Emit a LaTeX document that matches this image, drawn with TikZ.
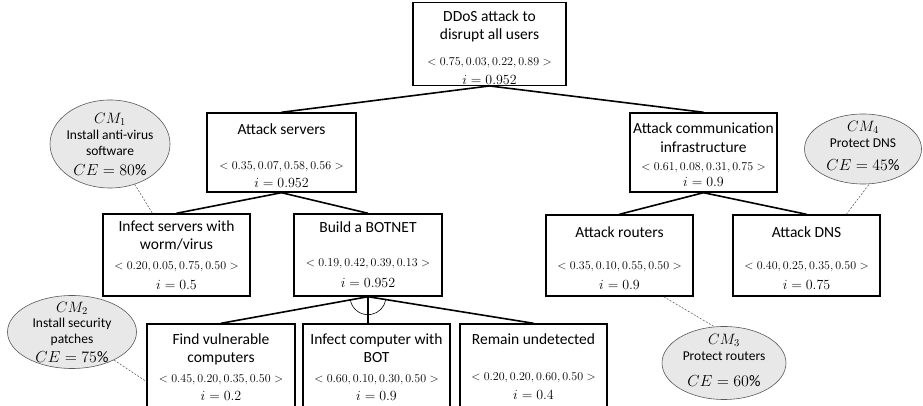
\documentclass[tikz,border=0pt]{standalone}
\usepackage{fix-cm}
\usepackage{fontspec}
\setmainfont{Carlito}
\usetikzlibrary{shapes.geometric}

\newcommand{\tpl}[1]{{\fontsize{12}{14}\selectfont$<#1>$}}
\newcommand{\ival}[1]{{\fontsize{14}{16}\selectfont$i=#1$}}
\newcommand{\cmname}[1]{{\fontsize{15}{16}\selectfont$CM_{#1}$}}
\newcommand{\cmval}[1]{{\fontsize{16}{18}\selectfont$CE=#1\mathrm{\%}$}}
\newcommand{\lift}[1]{\rule{0pt}{#1}}

\tikzset{
  goal/.style={rectangle,draw,line width=1.4pt,minimum width=147pt,minimum height=81pt,
    align=center,inner sep=1pt,font=\fontsize{15.5}{18.5}\selectfont},
  cmnode/.style={ellipse,draw=black!65,fill=gray!18,line width=0.6pt,inner sep=0pt},
  cmtext/.style={align=center,inner sep=0pt,font=\fontsize{13.5}{16}\selectfont},
  treelink/.style={line width=1.6pt},
  cmlink/.style={draw=black!70,line width=0.5pt,dash pattern=on 2pt off 1.5pt}
}

\begin{document}
\begin{tikzpicture}[x=1pt,y=1pt]
  \useasboundingbox (0,0) rectangle (923,406);
  % goal tree
  \node[goal,minimum width=153pt,minimum height=80pt] (ddos) at (489.5,362)
    {\lift{18pt}DDoS attack to\\[-1pt]disrupt all users\\[8pt]\tpl{0.75, 0.03, 0.22, 0.89}\\\ival{0.952}};
  \node[goal,minimum width=149pt,minimum height=79pt] (srv) at (281.5,253.5)
    {\lift{17.5pt}Attack servers\\[16pt]\tpl{0.35, 0.07, 0.58, 0.56}\\\ival{0.952}};
  \node[goal,minimum height=79pt] (comm) at (703.5,253.5)
    {\lift{15pt}Attack communication\\infrastructure\\\tpl{0.61, 0.08, 0.31, 0.75}\\[-3pt]\ival{0.9}};
  \node[goal,minimum height=82pt] (worm) at (176.5,151)
    {Infect servers with\\worm/virus\\[1pt]\tpl{0.20, 0.05, 0.75, 0.50}\\[2pt]\ival{0.5}};
  \node[goal,minimum width=148pt,minimum height=82pt] (bot) at (368,151)
    {Build a BOTNET\\[15pt]\tpl{0.19, 0.42, 0.39, 0.13}\\[3pt]\ival{0.952}};
  \node[goal] (rtr) at (619.5,150.5)
    {\lift{16pt}Attack routers\\[14pt]\tpl{0.35, 0.10, 0.55, 0.50}\\[1pt]\ival{0.9}};
  \node[goal] (dns) at (806.5,150.5)
    {\lift{16pt}Attack DNS\\[14pt]\tpl{0.40, 0.25, 0.35, 0.50}\\[1pt]\ival{0.75}};
  \node[goal,minimum width=148pt,minimum height=86pt] (vuln) at (221,39)
    {Find vulnerable\\computers\\[1pt]\tpl{0.45, 0.20, 0.35, 0.50}\\\ival{0.2}};
  \node[goal,minimum height=86pt] (infc) at (376.5,39)
    {Infect computer with\\BOT\\[1pt]\tpl{0.60, 0.10, 0.30, 0.50}\\\ival{0.9}};
  \node[goal,minimum height=86pt] (hide) at (533.5,39)
    {Remain undetected\\[17pt]\tpl{0.20, 0.20, 0.60, 0.50}\\[1pt]\ival{0.4}};

  \draw[treelink] (ddos.south) -- (srv.north);
  \draw[treelink] (ddos.south) -- (comm.north);
  \draw[treelink] (srv.south) -- (worm.north);
  \draw[treelink] (srv.south) -- (bot.north);
  \draw[treelink] (comm.south) -- (rtr.north);
  \draw[treelink] (comm.south) -- (dns.north);
  \draw[treelink] (bot.south) -- (vuln.north);
  \draw[treelink] (bot.south) -- (bot.south |- infc.north);
  \draw[treelink] (bot.south) -- (hide.north);
  % AND arc
  \draw[line width=0.6pt] (bot.south) ++(191:18) arc[start angle=191,end angle=350,radius=18];

  % countermeasures
  \node[cmnode,minimum width=120pt,minimum height=88pt] (cm1) at (110,262) {};
  \node[cmtext] (cm1txt) at (110,262)
    {\cmname{1}\\Install anti-virus\\software\\[4pt]\cmval{80}};
  \node[cmnode,minimum width=129pt,minimum height=73pt] (cm2) at (72,74) {};
  \node[cmtext] (cm2txt) at (72,74)
    {\cmname{2}\\[-1pt]Install security\\patches\\[3pt]\cmval{75}};
  \node[cmnode,minimum width=124pt,minimum height=73pt] (cm3) at (724,43) {};
  \node[cmtext] (cm3txt) at (724,46)
    {\cmname{3}\\Protect routers\\[10pt]\cmval{60}};
  \node[cmnode,minimum width=117pt,minimum height=70pt] (cm4) at (863,257) {};
  \node[cmtext] (cm4txt) at (863,260)
    {\cmname{4}\\Protect DNS\\[7pt]\cmval{45}};

  \draw[cmlink] (cm1) -- (worm.120);
  \draw[cmlink] (cm2) -- (vuln.191);
  \draw[cmlink] (rtr.-43) -- (cm3.105);
  \draw[cmlink] (dns.46) -- (cm4.280);
\end{tikzpicture}
\end{document}
